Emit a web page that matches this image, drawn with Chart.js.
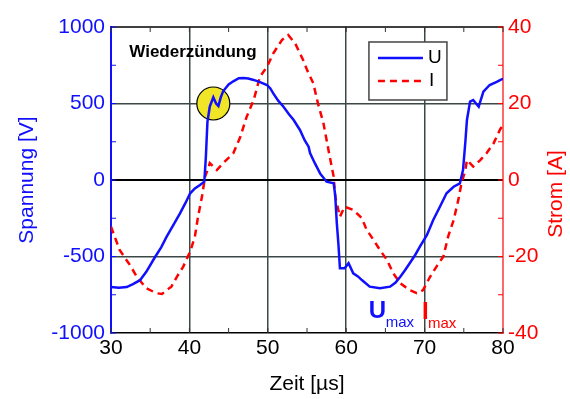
<!DOCTYPE html>
<html>
<head>
<meta charset="utf-8">
<script src="https://cdn.jsdelivr.net/npm/chart.js@4.4.0/dist/chart.umd.min.js"></script>
<style>
body { margin: 0; background: #fff; }
#wrap { width: 570px; height: 399px; }
</style>
</head>
<body>
<div id="wrap"><canvas id="chart"></canvas></div>
<script>
// Spannung U (blau, linke Achse)
var uZeit = [30, 31, 32, 32.8, 33.7, 34.5, 35.6, 36.4, 37.1, 38.0, 38.8, 39.5, 40.1, 40.7, 41.35, 41.9,
    42.1, 42.3, 42.6, 43.05, 43.4, 43.7, 44.0, 44.3, 45.0, 45.6, 46.3, 46.9, 47.5, 48.2, 49.0, 49.9,
    50.3, 50.7, 51.3, 52.0, 52.7, 53.3, 54.1, 54.7, 55.2, 55.4, 56.0, 56.7, 57.5, 58.4, 58.6, 58.8,
    59.0, 59.2, 59.8, 60.3, 60.9, 61.5, 62.0, 63.0, 64.3, 65.6, 66.3, 66.9, 67.5, 68.1, 68.8, 69.4,
    70.3, 71.1, 72.0, 72.8, 73.7, 74.5, 74.9, 75.2, 75.4, 75.8, 76.2, 76.9, 77.5, 78.3, 79.2, 79.8, 80];
var uSpannung = [-700, -705, -700, -680, -655, -600, -505, -440, -370, -290, -218, -150, -87, -55, -33, -11,
    150, 380, 480, 541, 500, 484, 540, 580, 625, 645, 665, 667, 663, 654, 640, 621,
    600, 566, 520, 479, 430, 392, 327, 260, 218, 174, 110, 40, -11, -22, -100, -280,
    -414, -577, -577, -544, -610, -630, -654, -697, -708, -697, -670, -632, -590, -544, -490, -436,
    -359, -261, -170, -87, -44, -22, 65, 250, 392, 512, 523, 479, 577, 621, 641, 658, 660];

// Strom I (rot, rechte Achse)
var iZeit = [30, 31.1, 32.4, 33.3, 34.5, 35.8, 36.5, 37.1, 37.7, 38.4, 39.2, 40.1, 40.7, 41.1, 41.6, 42.0,
    42.3, 42.6, 43.5, 44.3, 45.6, 46.5, 47.3, 48.2, 49.0, 49.9, 50.7, 51.8, 52.6, 53.5, 54.5, 55.0,
    55.8, 56.4, 57.1, 57.9, 58.4, 58.6, 59.2, 59.8, 60.9, 62.0, 62.6, 63.5, 64.3, 65.2, 66.0, 66.9,
    68.1, 69.0, 69.8, 70.7, 71.5, 72.4, 73.0, 73.7, 74.3, 74.7, 75.2, 75.4, 76.2, 77.1, 77.9, 78.8, 79.6, 80];
var iStrom = [-12.2, -18.3, -22.2, -25.3, -28.3, -29.6, -29.8, -28.8, -27.9, -25.3, -22.7, -18.7, -14.8, -9.6, -4.4, 0.9,
    2.5, 4.4, 2.6, 4.4, 7.0, 11.3, 16.5, 20.9, 27.0, 29.6, 33.1, 36.6, 37.9, 35.7, 31.4, 28.8,
    25.3, 20, 14.8, 6.1, 0.9, -4.4, -9.6, -7.0, -7.8, -10, -13, -15.7, -18.3, -20.9, -24.4, -27,
    -28.8, -29.6, -28.8, -25.3, -22.7, -20, -14.8, -10.5, -5.2, -0.9, 2.6, 5.2, 3.5, 5.2, 7.0, 9.6, 13.1, 14.4];

var zeitTicks = [30, 40, 50, 60, 70, 80];
var spannungTicks = [-1000, -500, 0, 500, 1000];
var stromTicks = [-40, -20, 0, 20, 40];

var wiederzuendung = [43.05, 500];   // Kreis
var textPos = [40.45, 836];
var uMaxPos = [63.0, -902];
var iMaxPos = [69.8, -902];

var FONT = '"Liberation Sans", Arial, sans-serif';
var BLAU = '#1010ff';
var ROT = '#ff0000';
var GITTER = '#3c4848';

function punkte(xs, ys) {
    var p = [];
    for (var i = 0; i < xs.length; i++) p.push({ x: xs[i], y: ys[i] });
    return p;
}

function ohneKomma(v) { return String(v); }

var extras = {
    id: 'extras',
    beforeDatasetsDraw: function (chart) {
        var ctx = chart.ctx, x = chart.scales.x, y = chart.scales.y;
        ctx.save();
        ctx.beginPath();
        ctx.arc(x.getPixelForValue(wiederzuendung[0]), y.getPixelForValue(wiederzuendung[1]), 16.5, 0, Math.PI * 2);
        ctx.fillStyle = '#f0e526';
        ctx.fill();
        ctx.lineWidth = 1.2;
        ctx.strokeStyle = '#000';
        ctx.stroke();
        ctx.restore();
    },
    afterDraw: function (chart) {
        var ctx = chart.ctx, a = chart.chartArea;
        var x = chart.scales.x, y = chart.scales.y, y1 = chart.scales.y1;
        ctx.save();

        // obere Rahmenlinie
        ctx.strokeStyle = '#000';
        ctx.lineWidth = 1.5;
        ctx.beginPath();
        ctx.moveTo(a.left, a.top);
        ctx.lineTo(a.right, a.top);
        ctx.stroke();

        // kleine Ticks nach innen
        ctx.lineWidth = 1;
        ctx.strokeStyle = '#333';
        for (var t = 30; t <= 80; t += 5) {
            var px = x.getPixelForValue(t);
            ctx.beginPath();
            ctx.moveTo(px, a.bottom); ctx.lineTo(px, a.bottom - 5);
            ctx.moveTo(px, a.top); ctx.lineTo(px, a.top + 5);
            ctx.stroke();
        }
        ctx.strokeStyle = BLAU;
        for (var v = -1000; v <= 1000; v += 250) {
            var py = y.getPixelForValue(v);
            ctx.beginPath();
            ctx.moveTo(a.left, py); ctx.lineTo(a.left + 5, py);
            ctx.stroke();
        }
        ctx.strokeStyle = ROT;
        for (var s = -40; s <= 40; s += 10) {
            var py2 = y1.getPixelForValue(s);
            ctx.beginPath();
            ctx.moveTo(a.right, py2); ctx.lineTo(a.right - 5, py2);
            ctx.stroke();
        }

        // Legende
        var lx = x.getPixelForValue(62.9), ly = y.getPixelForValue(902);
        var lw = 78, lh = 58;
        ctx.fillStyle = '#fff';
        ctx.fillRect(lx, ly, lw, lh);
        ctx.strokeStyle = '#444';
        ctx.lineWidth = 1.5;
        ctx.strokeRect(lx, ly, lw, lh);
        ctx.lineWidth = 2.5;
        ctx.strokeStyle = BLAU;
        ctx.beginPath();
        ctx.moveTo(lx + 9, ly + 16); ctx.lineTo(lx + 54, ly + 16);
        ctx.stroke();
        ctx.strokeStyle = ROT;
        ctx.setLineDash([7, 5]);
        ctx.beginPath();
        ctx.moveTo(lx + 9, ly + 39); ctx.lineTo(lx + 54, ly + 39);
        ctx.stroke();
        ctx.setLineDash([]);
        ctx.fillStyle = '#000';
        ctx.font = '19px ' + FONT;
        ctx.textBaseline = 'middle';
        ctx.textAlign = 'left';
        ctx.fillText('U', lx + 59, ly + 16);
        ctx.fillText('I', lx + 60, ly + 39);

        // Beschriftungen
        ctx.font = 'bold 17px ' + FONT;
        ctx.textAlign = 'center';
        ctx.fillText('Wiederzündung', x.getPixelForValue(textPos[0]), y.getPixelForValue(textPos[1]));

        ctx.textBaseline = 'alphabetic';
        ctx.textAlign = 'left';
        var ux = x.getPixelForValue(uMaxPos[0]), uy = y.getPixelForValue(uMaxPos[1]);
        ctx.fillStyle = BLAU;
        ctx.font = 'bold 24px ' + FONT;
        ctx.fillText('U', ux - 1, uy);
        ctx.font = '15px ' + FONT;
        ctx.fillText('max', ux + 16, uy + 9);
        var ix = x.getPixelForValue(iMaxPos[0]), iy = y.getPixelForValue(iMaxPos[1]);
        ctx.fillStyle = ROT;
        ctx.font = 'bold 24px ' + FONT;
        ctx.fillText('I', ix - 1, iy + 1);
        ctx.font = '15px ' + FONT;
        ctx.fillText('max', ix + 5, iy + 10);

        // rechter Achsentitel (von unten nach oben)
        ctx.font = '21px ' + FONT;
        ctx.textAlign = 'center';
        ctx.textBaseline = 'middle';
        ctx.translate(556, (a.top + a.bottom) / 2 + 14);
        ctx.rotate(-Math.PI / 2);
        ctx.fillText('Strom [A]', 0, 0);
        ctx.restore();
    }
};

var ctx = document.getElementById('chart').getContext('2d');

new Chart(ctx, {
    type: 'line',
    data: {
        datasets: [
            {
                label: 'U',
                data: punkte(uZeit, uSpannung),
                yAxisID: 'y',
                borderColor: BLAU,
                borderWidth: 2.5,
                pointRadius: 0,
                tension: 0
            },
            {
                label: 'I',
                data: punkte(iZeit, iStrom),
                yAxisID: 'y1',
                borderColor: ROT,
                borderWidth: 2.5,
                borderDash: [7, 5],
                pointRadius: 0,
                tension: 0
            }
        ]
    },
    options: {
        responsive: true,
        maintainAspectRatio: false,
        animation: false,
        layout: { padding: { top: 27, left: 0, right: 0, bottom: 0 } },
        plugins: {
            legend: { display: false },
            tooltip: { enabled: false }
        },
        scales: {
            x: {
                type: 'linear',
                min: 30, max: 80,
                afterFit: function (s) { s.height = 66; },
                afterBuildTicks: function (s) { s.ticks = zeitTicks.map(function (v) { return { value: v }; }); },
                ticks: { color: '#000', font: { size: 21, family: FONT }, padding: 3, maxRotation: 0, callback: ohneKomma },
                grid: {
                    drawTicks: false,
                    lineWidth: 1.5,
                    color: function (c) { return (c.tick.value === 30 || c.tick.value === 80) ? 'rgba(0,0,0,0)' : GITTER; }
                },
                border: { color: '#000', width: 1.5 },
                title: { display: true, text: 'Zeit [µs]', color: '#000', font: { size: 21, family: FONT }, padding: { bottom: 2, top: 0 } }
            },
            y: {
                position: 'left',
                min: -1000, max: 1000,
                afterFit: function (s) { s.width = 111; },
                afterBuildTicks: function (s) { s.ticks = spannungTicks.map(function (v) { return { value: v }; }); },
                ticks: { color: BLAU, font: { size: 21, family: FONT }, padding: 6, callback: ohneKomma },
                grid: {
                    drawTicks: false,
                    lineWidth: function (c) { return c.tick.value === 0 ? 2 : 1.5; },
                    color: function (c) {
                        if (c.tick.value === 0) return '#000';
                        if (Math.abs(c.tick.value) === 1000) return 'rgba(0,0,0,0)';
                        return GITTER;
                    }
                },
                border: { color: BLAU, width: 2 },
                title: { display: true, text: 'Spannung [V]', color: BLAU, font: { size: 21, family: FONT }, padding: { top: 15, bottom: 0 } }
            },
            y1: {
                position: 'right',
                min: -40, max: 40,
                afterFit: function (s) { s.width = 67; },
                afterBuildTicks: function (s) { s.ticks = stromTicks.map(function (v) { return { value: v }; }); },
                ticks: { color: ROT, font: { size: 21, family: FONT }, padding: 5, callback: ohneKomma },
                grid: { drawTicks: false, drawOnChartArea: false },
                border: { color: 'rgba(255,40,40,0.7)', width: 2 }
            }
        }
    },
    plugins: [extras]
});
</script>
</body>
</html>
